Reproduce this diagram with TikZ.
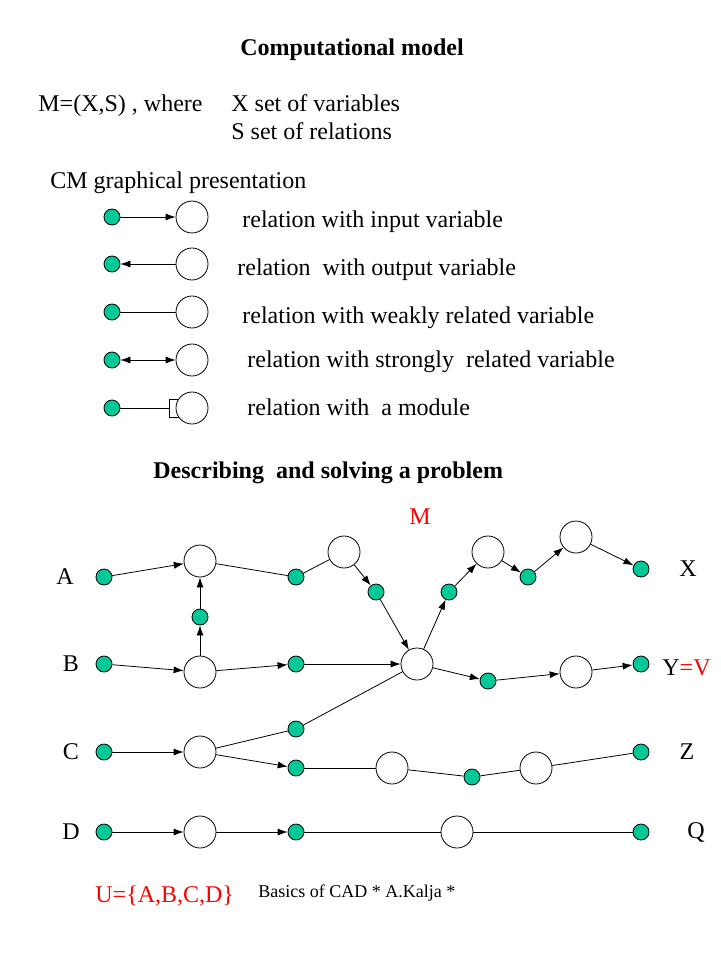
\documentclass[tikz,border=0pt]{standalone}
\usepackage{fontspec}
\setmainfont{Liberation Serif}
\usepackage{xcolor}
\usepackage{tikz}
\usetikzlibrary{arrows.meta}

\definecolor{vargreen}{RGB}{0,200,150}

\begin{document}
\begin{tikzpicture}[x=1pt, y=-1pt, line width=0.8pt,
    >={Latex[length=10pt,width=7pt]},
    var/.style={circle, draw, fill=vargreen, minimum size=16pt, inner sep=0pt},
    rel/.style={circle, draw, fill=white, minimum size=32pt, inner sep=0pt},
    txt/.style={anchor=base west, inner sep=0pt, font=\fontsize{24pt}{28pt}\selectfont},
    lbl/.style={inner sep=0pt, font=\fontsize{24pt}{28pt}\selectfont}]
    \useasboundingbox (0,0) rectangle (720,960);

    % Titel und Definition
    \node[txt, font=\fontsize{24pt}{28pt}\selectfont\bfseries] (title) at (240,56) {Computational model};
    \node[txt] (mdef) at (38,112) {M=(X,S) , where};
    \node[txt] (xdef) at (231,112) {X set of variables};
    \node[txt] (sdef) at (231,140) {S set of relations};
    \node[txt] (cmgr) at (50,188) {CM graphical presentation};

    % Legende
    \node[var] (li) at (112,217) {};  \node[rel] (ri) at (192,217) {};
    \node[var] (lo) at (112,264) {};  \node[rel] (ro) at (192,264) {};
    \node[var] (lw) at (112,312) {};  \node[rel] (rw) at (192,312) {};
    \node[var] (ls) at (112,360) {};  \node[rel] (rs) at (192,360) {};
    \node[var] (lm) at (112,408) {};
    \draw (169,399) rectangle (178,417);
    \coordinate (mbox) at (169,408);
    \node[rel] (rm) at (192,408) {};
    \draw[->] (li) -- (ri);
    \draw[->] (ro) -- (lo);
    \draw (lw) -- (rw);
    \draw[<->] (ls) -- (rs);
    \draw (lm) -- (mbox);

    \node[txt] (tin) at (242,227) {relation with input variable};
    \node[txt] (tout) at (237,275) {relation\ \ with output variable};
    \node[txt] (twk) at (242,323) {relation with weakly related variable};
    \node[txt] (tstr) at (247,367) {relation with strongly\ \ related variable};
    \node[txt] (tmod) at (247,415) {relation with\ \ a module};

    \node[txt, font=\fontsize{24pt}{28pt}\selectfont\bfseries] (title2) at (153,478) {Describing\ \ and solving a problem};

    % Rechenmodell M
    \node[var] (va) at (104,577) {};
    \node[var] (vb) at (104,664) {};
    \node[var] (vc) at (104,752) {};
    \node[var] (vd) at (104,832) {};

    \node[rel] (r1) at (200,561) {};
    \node[rel] (r2) at (200,672) {};
    \node[rel] (r3) at (200,752) {};
    \node[rel] (r4) at (200,832) {};

    \node[var] (v1) at (200,617) {};
    \node[var] (v2) at (296,577) {};
    \node[var] (v3) at (296,664) {};
    \node[var] (v4) at (296,729) {};
    \node[var] (v5) at (296,768) {};
    \node[var] (v6) at (296,832) {};

    \node[rel] (r5) at (344,552) {};
    \node[var] (v7) at (376,592) {};
    \node[rel] (r6) at (417,664) {};
    \node[var] (v8) at (449,592) {};
    \node[rel] (r7) at (488,552) {};
    \node[var] (v9) at (528,577) {};
    \node[rel] (r8) at (576,537) {};
    \node[var] (vx) at (641,569) {};

    \node[var] (v10) at (488,681) {};
    \node[rel] (r9) at (576,672) {};
    \node[var] (vy) at (641,664) {};

    \node[rel] (r10) at (392,768) {};
    \node[var] (v11) at (472,777) {};
    \node[rel] (r11) at (536,768) {};
    \node[var] (vz) at (641,752) {};

    \node[rel] (r12) at (457,832) {};
    \node[var] (vq) at (641,832) {};

    % Kanten
    \draw[->] (va) -- (r1);
    \draw[->] (v1) -- (r1);
    \draw[->] (r2) -- (v1);
    \draw[->] (vb) -- (r2);
    \draw[->] (r2) -- (v3);
    \draw[->] (v3) -- (r6);
    \draw (r1) -- (v2);
    \draw (v2) -- (r5);
    \draw[->] (r5) -- (v7);
    \draw[->] (v7) -- (r6);
    \draw[->] (r6) -- (v8);
    \draw[->] (v8) -- (r7);
    \draw[->] (r7) -- (v9);
    \draw[->] (v9) -- (r8);
    \draw[->] (r8) -- (vx);
    \draw[->] (r6) -- (v10);
    \draw[->] (v10) -- (r9);
    \draw[->] (r9) -- (vy);
    \draw (v4) -- (r6);
    \draw (r3) -- (v4);
    \draw[->] (vc) -- (r3);
    \draw[->] (r3) -- (v5);
    \draw (v5) -- (r10);
    \draw (r10) -- (v11);
    \draw (v11) -- (r11);
    \draw (r11) -- (vz);
    \draw[->] (vd) -- (r4);
    \draw[->] (r4) -- (v6);
    \draw (v6) -- (r12);
    \draw (r12) -- (vq);

    % Beschriftungen
    \node[lbl] (la) at (65,577) {A};
    \node[lbl] (lb) at (71,664) {B};
    \node[lbl] (lc) at (71,752) {C};
    \node[lbl] (ld) at (71,832) {D};
    \node[lbl, text=red] (lmm) at (420,517) {M};
    \node[lbl] (lx) at (688,569) {X};
    \node[lbl, anchor=west] (lyv) at (662,668) {Y\textcolor{red}{=V}};
    \node[lbl] (lz) at (687,752) {Z};
    \node[lbl] (lq) at (696,832) {Q};

    \node[txt, text=red] (uset) at (95,902) {U=\{A,B,C,D\}};
    \node[txt, font=\fontsize{18pt}{22pt}\selectfont] (foot) at (258,897) {Basics of CAD * A.Kalja *};
\end{tikzpicture}
\end{document}
